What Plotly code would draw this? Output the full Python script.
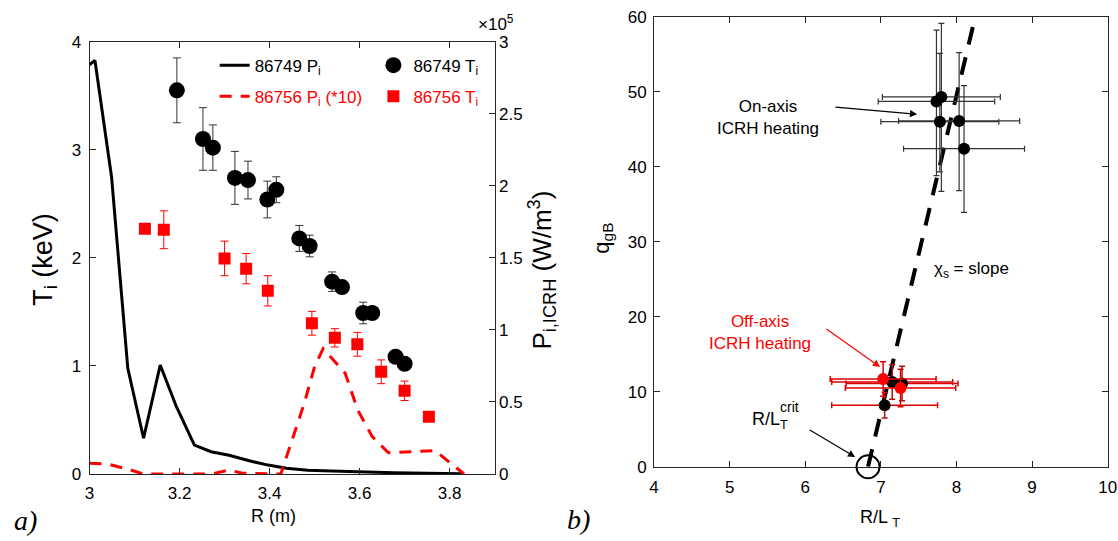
import plotly.graph_objects as go

# ---------------- panel a: T_i and ICRH power density profiles ----------------
r_ti_86749 = [3.194, 3.252, 3.274, 3.323, 3.352, 3.395, 3.415, 3.466, 3.489,
              3.539, 3.561, 3.608, 3.628, 3.680, 3.700]
ti_86749 = [3.55, 3.10, 3.02, 2.74, 2.72, 2.54, 2.63, 2.18, 2.11,
            1.78, 1.73, 1.49, 1.49, 1.085, 1.02]
ti_err_86749 = [0.30, 0.29, 0.21, 0.245, 0.175, 0.17, 0.12, 0.12, 0.10,
                0.09, 0.06, 0.10, 0.03, 0.03, 0.03]

r_ti_86756 = [3.123, 3.165, 3.300, 3.348, 3.396, 3.494, 3.545, 3.595, 3.648, 3.700, 3.754]
ti_86756 = [2.27, 2.26, 1.995, 1.90, 1.695, 1.395, 1.26, 1.20, 0.946, 0.77, 0.53]
ti_err_86756 = [0.02, 0.175, 0.16, 0.14, 0.14, 0.11, 0.085, 0.11, 0.11, 0.09, 0.03]

# power density in units of 1e5 W/m^3
r_p_86749 = [3.0, 3.012, 3.049, 3.085, 3.12, 3.157, 3.193, 3.233, 3.27, 3.31,
             3.357, 3.397, 3.437, 3.485, 3.557, 3.676, 3.827]
p_86749 = [2.84, 2.87, 2.06, 0.733, 0.248, 0.756, 0.467, 0.201, 0.155, 0.13,
           0.09, 0.062, 0.04, 0.026, 0.019, 0.009, 0.002]

r_p_86756 = [3.0, 3.039, 3.087, 3.12, 3.27, 3.31, 3.34, 3.425, 3.477, 3.50,
             3.519, 3.54, 3.568, 3.596, 3.628, 3.664, 3.768, 3.832]
p_86756_x10 = [0.074, 0.07, 0.032, 0.0, 0.0, 0.028, 0.005, 0.0, 0.49, 0.745,
               0.87, 0.80, 0.70, 0.444, 0.26, 0.148, 0.162, 0.0]

# ---------------- panel b: q_gB versus R/L_T ----------------
on_rlt = [7.735, 7.80, 7.78, 8.035, 8.10]
on_q = [48.7, 49.3, 46.0, 46.1, 42.4]
on_rlt_err = [0.77, 0.78, 0.78, 0.80, 0.80]
on_q_err_plus = [9.5, 9.8, 9.1, 9.1, 8.4]
on_q_err_minus = [9.9, 12.6, 6.7, 9.3, 8.5]

off_black_rlt = [7.15, 7.28, 7.05]
off_black_q = [11.3, 11.1, 8.2]
off_black_rlt_err = [0.80, 0.74, 0.70]
off_black_q_err = [2.3, 2.3, 1.7]

off_red_rlt = [7.03, 7.26]
off_red_q = [11.7, 10.5]
off_red_rlt_err = [0.70, 0.73]
off_red_q_err = [2.3, 2.5]

crit_rlt = [6.83]
crit_q = [0.0]
fit_rlt = [6.83, 8.22]
fit_q = [0.0, 58.8]

FONT = "Liberation Sans, Arial, Helvetica, sans-serif"
SERIF = "Liberation Serif, DejaVu Serif, serif"
INK = "#000000"
AX = "#262626"
RED = "#ff0000"

fig = go.Figure()

# panel a: power density lines (right axis)
fig.add_trace(go.Scatter(
    x=r_p_86749, y=p_86749, mode="lines", yaxis="y2", xaxis="x",
    line=dict(color=INK, width=3), name="86749 P<sub>i</sub>",
    legend="legend", legendgroup="p1", cliponaxis=False))
fig.add_trace(go.Scatter(
    x=r_p_86756, y=p_86756_x10, mode="lines", yaxis="y2", xaxis="x",
    line=dict(color=RED, width=3, dash="12px,9px"),
    name='<span style="color:#ff0000">86756 P<sub>i</sub> (*10)</span>',
    legend="legend", legendgroup="p2", cliponaxis=False))

# panel a: temperature markers (left axis)
fig.add_trace(go.Scatter(
    x=r_ti_86749, y=ti_86749, mode="markers", xaxis="x", yaxis="y",
    marker=dict(symbol="circle", size=16, color=INK),
    error_y=dict(type="data", array=ti_err_86749, color="#333333", thickness=1, width=4),
    name="86749 T<sub>i</sub>", legend="legend2", legendgroup="t1"))
fig.add_trace(go.Scatter(
    x=r_ti_86756, y=ti_86756, mode="markers", xaxis="x", yaxis="y",
    marker=dict(symbol="square", size=12, color=RED),
    error_y=dict(type="data", array=ti_err_86756, color=RED, thickness=1, width=4),
    name='<span style="color:#ff0000">86756 T<sub>i</sub></span>',
    legend="legend2", legendgroup="t2"))

# panel b
fig.add_trace(go.Scatter(
    x=fit_rlt, y=fit_q, mode="lines", xaxis="x2", yaxis="y3",
    line=dict(color=INK, width=4, dash="18px,13px"), showlegend=False))
fig.add_trace(go.Scatter(
    x=on_rlt, y=on_q, mode="markers", xaxis="x2", yaxis="y3",
    marker=dict(symbol="circle", size=12, color=INK),
    error_x=dict(type="data", array=on_rlt_err, color="#333333", thickness=1.2, width=3),
    error_y=dict(type="data", array=on_q_err_plus, arrayminus=on_q_err_minus,
                 color="#333333", thickness=1.2, width=3),
    showlegend=False))
fig.add_trace(go.Scatter(
    x=off_black_rlt, y=off_black_q, mode="markers", xaxis="x2", yaxis="y3",
    marker=dict(symbol="circle", size=12, color=INK),
    error_x=dict(type="data", array=off_black_rlt_err, color="#dd0000", thickness=1.5, width=3),
    error_y=dict(type="data", array=off_black_q_err, color="#aa1010", thickness=1.5, width=3),
    showlegend=False))
fig.add_trace(go.Scatter(
    x=off_red_rlt, y=off_red_q, mode="markers", xaxis="x2", yaxis="y3",
    marker=dict(symbol="circle", size=12, color=RED),
    error_x=dict(type="data", array=off_red_rlt_err, color="#dd0000", thickness=1.5, width=3),
    error_y=dict(type="data", array=off_red_q_err, color="#dd0000", thickness=1.5, width=3),
    showlegend=False))
fig.add_trace(go.Scatter(
    x=crit_rlt, y=crit_q, mode="markers", xaxis="x2", yaxis="y3",
    marker=dict(symbol="circle-open", size=23, color=INK, line=dict(width=2, color=INK)),
    cliponaxis=False, showlegend=False))

tickfont = dict(family=FONT, size=17, color=INK)
common = dict(showline=True, linecolor=AX, linewidth=1, ticks="inside", ticklen=6,
              tickcolor=AX, tickfont=tickfont, showgrid=False, zeroline=False,
              automargin=False)

fig.update_layout(
    width=1118, height=541,
    margin=dict(l=0, r=0, t=0, b=0, autoexpand=False),
    paper_bgcolor="white", plot_bgcolor="white",
    font=dict(family=FONT, size=17, color=INK),
    xaxis=dict(domain=[0.0801, 0.4424], range=[3, 3.9], tickvals=[3, 3.2, 3.4, 3.6, 3.8],
               mirror="ticks", anchor="y", ticklabelstandoff=4, **common),
    yaxis=dict(domain=[0.1238, 0.9229], range=[0, 4], dtick=1, anchor="x",
               ticklabelstandoff=4, **common),
    yaxis2=dict(range=[0, 3], dtick=0.5, overlaying="y", side="right", anchor="x", **common),
    xaxis2=dict(domain=[0.585, 0.9908], range=[4, 10], dtick=1, anchor="y3",
                mirror="ticks", ticklabelstandoff=5, ticklabeloverflow="allow", **common),
    yaxis3=dict(domain=[0.1373, 0.9691], range=[0, 60], dtick=10, anchor="x2",
                mirror="ticks", ticklabelstandoff=3, **common),
    legend=dict(x=0.192, y=0.912, xanchor="left", yanchor="top", bgcolor="rgba(0,0,0,0)",
                font=dict(family=FONT, size=17, color=INK), tracegroupgap=6),
    legend2=dict(x=0.334, y=0.912, xanchor="left", yanchor="top", bgcolor="rgba(0,0,0,0)",
                 font=dict(family=FONT, size=17, color=INK), tracegroupgap=6),
)


def label(text, x, y, size, angle=0, family=FONT, color=INK):
    return dict(text=text, x=x, y=y, xref="paper", yref="paper", xanchor="center",
                yanchor="middle", textangle=angle, showarrow=False,
                font=dict(family=family, size=size, color=color))


ann = [
    # axis titles and panel labels
    label("T<sub>i</sub> (keV)", 0.040, 0.521, 27, -90),
    label("P<sub>i,ICRH</sub> (W/m<sup>3</sup>)", 0.484, 0.50, 26, -90),
    label("R (m)", 0.245, 0.046, 18),
    label("×10<sup>5</sup>", 0.4437, 0.958, 17),
    label("<i>a)</i>", 0.0224, 0.037, 28, family=SERIF),
    label("<i>b)</i>", 0.517, 0.039, 28, family=SERIF),
    label("q<sub>gB</sub>", 0.539, 0.56, 22, -90),
    label("R/L <sub>T</sub>", 0.787, 0.042, 18),
]

# panel b annotations
ann.append(dict(text="On-axis<br>ICRH heating", x=5.51, y=46.5, xref="x2", yref="y3",
                showarrow=False, font=dict(family=FONT, size=17, color=INK)))
ann.append(dict(text="", x=7.48, y=47.0, ax=6.38, ay=47.96, xref="x2", yref="y3",
                axref="x2", ayref="y3", showarrow=True, arrowhead=2, arrowsize=1.2,
                arrowwidth=1.2, arrowcolor=INK))
ann.append(dict(text="Off-axis<br>ICRH heating", x=5.40, y=17.9, xref="x2", yref="y3",
                showarrow=False, font=dict(family=FONT, size=17, color=RED)))
ann.append(dict(text="", x=6.99, y=13.3, ax=6.26, ay=18.5, xref="x2", yref="y3",
                axref="x2", ayref="y3", showarrow=True, arrowhead=2, arrowsize=1.2,
                arrowwidth=1.2, arrowcolor=RED))
ann.append(dict(text="R/L<sub>T</sub>", x=5.54, y=6.1, xref="x2", yref="y3",
                showarrow=False, font=dict(family=FONT, size=18, color=INK)))
ann.append(dict(text="crit", x=5.79, y=7.9, xref="x2", yref="y3",
                showarrow=False, font=dict(family=FONT, size=14, color=INK)))
ann.append(dict(text="", x=6.66, y=1.3, ax=6.04, ay=5.0, xref="x2", yref="y3",
                axref="x2", ayref="y3", showarrow=True, arrowhead=2, arrowsize=1.2,
                arrowwidth=1.2, arrowcolor=INK))
ann.append(dict(text="χ<sub>s</sub> = slope", x=8.20, y=26.2, xref="x2", yref="y3",
                showarrow=False, font=dict(family=FONT, size=17, color=INK)))

fig.update_layout(annotations=ann)

fig.write_html("out.html")
